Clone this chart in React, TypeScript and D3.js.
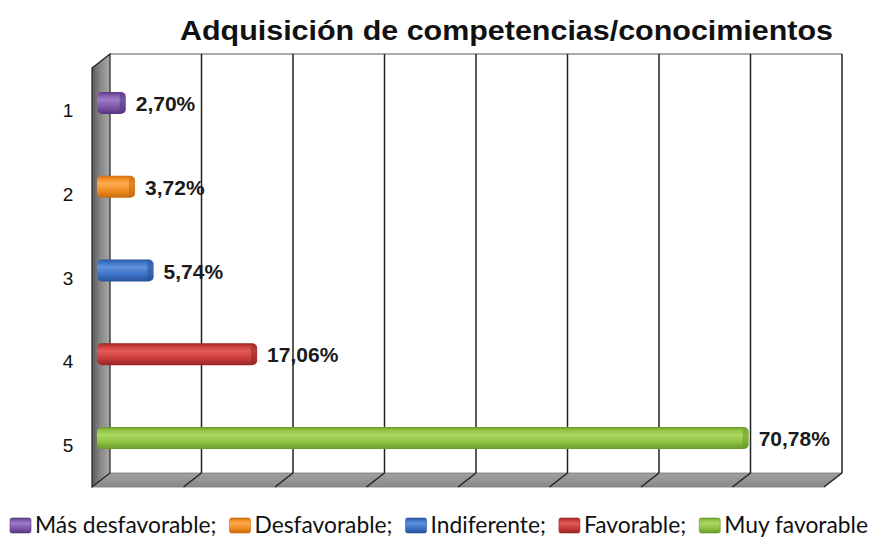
import React from "react";
import * as d3 from "d3";

const categories = ["1", "2", "3", "4", "5"];
const values = [2.7, 3.72, 5.74, 17.06, 70.78];
const labels = ["2,70%", "3,72%", "5,74%", "17,06%", "70,78%"];
const seriesNames = ["Más desfavorable;", "Desfavorable;", "Indiferente;", "Favorable;", "Muy favorable"];
const xTicks = [0, 10, 20, 30, 40, 50, 60, 70, 80];
const title = "Adquisición de competencias/conocimientos";

const palette = [
  { base: "#7B55A8", light: "#9c7cc8", dark: "#553580" },
  { base: "#F08A1E", light: "#fbab50", dark: "#c56810" },
  { base: "#3A70C4", light: "#5f92de", dark: "#27529a" },
  { base: "#C83A3A", light: "#e25a58", dark: "#962424" },
  { base: "#8DC040", light: "#acd962", dark: "#6a972a" },
];

const W = 871;
const H = 538;
const DX = -18; // depth offset x (back -> front)
const DY = 14; // depth offset y
const backLeft = 110;
const backRight = 842;
const backTop = 54;
const backBottom = 473;

function measure(text: string, font: string) {
  const c = document.createElement("canvas").getContext("2d");
  if (!c) return text.length * 10;
  c.font = font;
  return c.measureText(text).width;
}

export default function App() {
  const xBack = d3.scaleLinear().domain([0, 80]).range([backLeft, backRight]);
  const xMid = (v: number) => xBack(v) + DX / 2;
  const yMid = d3
    .scaleBand<string>()
    .domain(categories)
    .range([backTop + DY / 2, backBottom + DY / 2]);
  const yFront = d3
    .scaleBand<string>()
    .domain(categories)
    .range([backTop + DY, backBottom + DY]);
  const barH = 22;

  const legendSize = 22.8;
  const legendFont = `${legendSize}px Lato`;
  const legendY = 533;
  let lx = 10;
  const legendItems = seriesNames.map((n, i) => {
    const w = measure(n, legendFont);
    const item = { x: lx, w, name: n, i };
    lx += 21 + 4 + w + 13;
    return item;
  });

  return (
    <svg width={W} height={H} style={{ position: "absolute", left: 0, top: 0, background: "#fff" }}>
      <defs>
        {palette.map((p, i) => (
          <linearGradient key={i} id={`bar${i}`} x1="0" y1="0" x2="0" y2="1">
            <stop offset="0" stopColor={p.dark} />
            <stop offset="0.12" stopColor={p.base} />
            <stop offset="0.35" stopColor={p.light} />
            <stop offset="0.7" stopColor={p.base} />
            <stop offset="1" stopColor={p.dark} />
          </linearGradient>
        ))}
        <linearGradient id="wall" x1="0" y1="0" x2="1" y2="0">
          <stop offset="0" stopColor="#5a5a5a" />
          <stop offset="0.5" stopColor="#8a8a8a" />
          <stop offset="1" stopColor="#a8a8a8" />
        </linearGradient>
        <linearGradient id="floor" x1="0" y1="0" x2="0" y2="1">
          <stop offset="0" stopColor="#a0a0a0" />
          <stop offset="1" stopColor="#8a8a8a" />
        </linearGradient>
      </defs>

      <text
        x={180}
        y={40}
        textLength={653}
        lengthAdjust="spacingAndGlyphs"
        fontFamily="Liberation Sans, Arial, sans-serif"
        fontWeight="bold"
        fontSize={28.5}
        fill="#111"
      >
        {title}
      </text>

      {/* back wall */}
      <rect x={backLeft} y={backTop} width={backRight - backLeft} height={backBottom - backTop} fill="#fff" />
      <line x1={backLeft} x2={backRight} y1={backTop} y2={backTop} stroke="#aaa" strokeWidth={2} />

      {/* floor */}
      <path
        d={`M${backLeft},${backBottom} L${backRight},${backBottom} L${backRight + DX},${backBottom + DY} L${backLeft + DX},${backBottom + DY} Z`}
        fill="url(#floor)"
        stroke="#777"
        strokeWidth={0.8}
      />
      {/* left wall */}
      <path
        d={`M${backLeft + DX},${backTop + DY} L${backLeft},${backTop} L${backLeft},${backBottom} L${backLeft + DX},${backBottom + DY} Z`}
        fill="url(#wall)"
        stroke="#222"
        strokeWidth={1.2}
      />

      {/* gridlines */}
      {xTicks.slice(1).map((t) => (
        <g key={t}>
          <line x1={xBack(t)} x2={xBack(t)} y1={backTop} y2={backBottom} stroke="#222" strokeWidth={1.5} />
          <line
            x1={xBack(t)}
            x2={xBack(t) + DX}
            y1={backBottom}
            y2={backBottom + DY}
            stroke="#222"
            strokeWidth={1.5}
          />
        </g>
      ))}

      {/* category labels */}
      {categories.map((c) => (
        <text
          key={c}
          x={68}
          y={(yFront(c) ?? 0) + yFront.bandwidth() / 2 + 7}
          textAnchor="middle"
          fontFamily="Liberation Sans, Arial, sans-serif"
          fontSize={19}
          fill="#111"
        >
          {c}
        </text>
      ))}

      {/* bars */}
      {values.map((v, i) => {
        const c = categories[i];
        const cy = (yMid(c) ?? 0) + yMid.bandwidth() / 2;
        const x0 = xMid(0) - 4;
        const x1 = xMid(v);
        const p = palette[i];
        return (
          <g key={c}>
            <rect x={x0} y={cy - barH / 2} width={x1 - x0} height={barH} rx={5} fill={`url(#bar${i})`} />
            <rect x={x1 - 6} y={cy - barH / 2 + 1} width={6} height={barH - 2} rx={4} fill={p.dark} opacity={0.55} />
            <text
              x={x1 + 10}
              y={cy + 8}
              fontFamily="Liberation Sans, Arial, sans-serif"
              fontWeight="bold"
              fontSize={21}
              fill="#1a1a1a"
            >
              {labels[i]}
            </text>
          </g>
        );
      })}

      {/* legend */}
      {legendItems.map((it) => {
        const p = palette[it.i];
        return (
          <g key={it.name}>
            <rect x={it.x} y={518} width={21} height={15} rx={2} fill={`url(#bar${it.i})`} stroke={p.dark} strokeWidth={0.6} />
            <text x={it.x + 25} y={legendY} fontFamily="Lato, sans-serif" fontSize={legendSize} fill="#111">
              {it.name}
            </text>
          </g>
        );
      })}
    </svg>
  );
}
